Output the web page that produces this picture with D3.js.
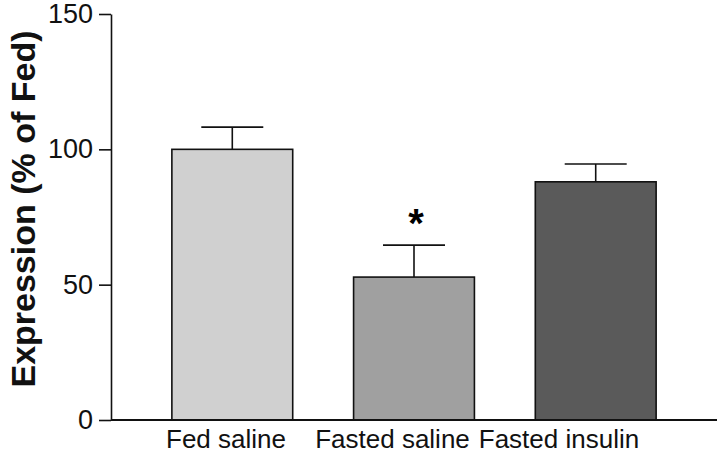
<!DOCTYPE html>
<html>
<head>
<meta charset="utf-8">
<script src="https://cdn.jsdelivr.net/npm/d3@7"></script>
<style>
  body { margin: 0; background: #fff; }
  svg { display: block; font-family: "Liberation Sans", Arial, sans-serif; }
</style>
</head>
<body>
<div id="chart"></div>
<script>
// chart values
const categories = ['Fed saline', 'Fasted saline', 'Fasted insulin'];
const means = [100, 52.8, 88];
const errors = [8.2, 11.8, 6.6];
const barColors = ['#d0d0d0', '#a0a0a0', '#5a5a5a'];
const yTicks = [0, 50, 100, 150];
const marks = ['', '*', ''];

const width = 720, height = 462;

const svg = d3.select('#chart').append('svg')
  .attr('width', width).attr('height', height);

// scales
const x = d3.scaleBand().domain(categories)
  .range([111, 717]).paddingInner(0.335).paddingOuter(0.335);
const xLabel = d3.scalePoint().domain(categories).range([226, 559]);
const y = d3.scaleLinear().domain([0, 150]).range([420, 14]);

// bars
svg.selectAll('rect.bar')
  .data(categories)
  .enter().append('rect')
  .attr('class', 'bar')
  .attr('x', d => x(d))
  .attr('y', (d, i) => y(means[i]))
  .attr('width', x.bandwidth())
  .attr('height', (d, i) => y(0) - y(means[i]))
  .attr('fill', (d, i) => barColors[i])
  .attr('stroke', '#111')
  .attr('stroke-width', 1.6);

// error bars (upper only)
const eb = svg.selectAll('g.err').data(categories).enter().append('g');
eb.append('line')
  .attr('x1', d => x(d) + x.bandwidth() / 2)
  .attr('x2', d => x(d) + x.bandwidth() / 2)
  .attr('y1', (d, i) => y(means[i]))
  .attr('y2', (d, i) => y(means[i] + errors[i]))
  .attr('stroke', '#111').attr('stroke-width', 1.6);
eb.append('line')
  .attr('x1', d => x(d) + x.bandwidth() / 2 - 31)
  .attr('x2', d => x(d) + x.bandwidth() / 2 + 31)
  .attr('y1', (d, i) => y(means[i] + errors[i]))
  .attr('y2', (d, i) => y(means[i] + errors[i]))
  .attr('stroke', '#111').attr('stroke-width', 1.6);

// significance mark
svg.selectAll('text.sig').data(categories).enter().append('text')
  .attr('x', d => x(d) + x.bandwidth() / 2 + 2)
  .attr('y', (d, i) => y(means[i] + errors[i]) - 8)
  .attr('text-anchor', 'middle')
  .attr('font-size', 40).attr('font-weight', 'bold')
  .text((d, i) => marks[i]);

// y axis
const yAxis = svg.append('g')
  .attr('transform', 'translate(111,0)')
  .call(d3.axisLeft(y).tickValues(yTicks).tickSize(12).tickPadding(6).tickSizeOuter(0));
yAxis.selectAll('text').attr('font-size', 27).attr('fill', '#111')
  .attr('font-family', '"Liberation Sans", Arial, sans-serif');
yAxis.selectAll('line, path').attr('stroke', '#111').attr('stroke-width', 1.6);

// x axis baseline
svg.append('line')
  .attr('x1', 111).attr('x2', 717)
  .attr('y1', y(0)).attr('y2', y(0))
  .attr('stroke', '#111').attr('stroke-width', 1.8);

// category labels
svg.selectAll('text.cat').data(categories).enter().append('text')
  .attr('x', d => xLabel(d))
  .attr('y', 448)
  .attr('text-anchor', 'middle')
  .attr('font-size', 26).attr('fill', '#111')
  .text(d => d);

// y axis title
svg.append('text')
  .attr('transform', 'translate(35,209) rotate(-90)')
  .attr('text-anchor', 'middle')
  .attr('font-size', 34).attr('font-weight', 'bold').attr('fill', '#111')
  .text('Expression (% of Fed)');
</script>
</body>
</html>
